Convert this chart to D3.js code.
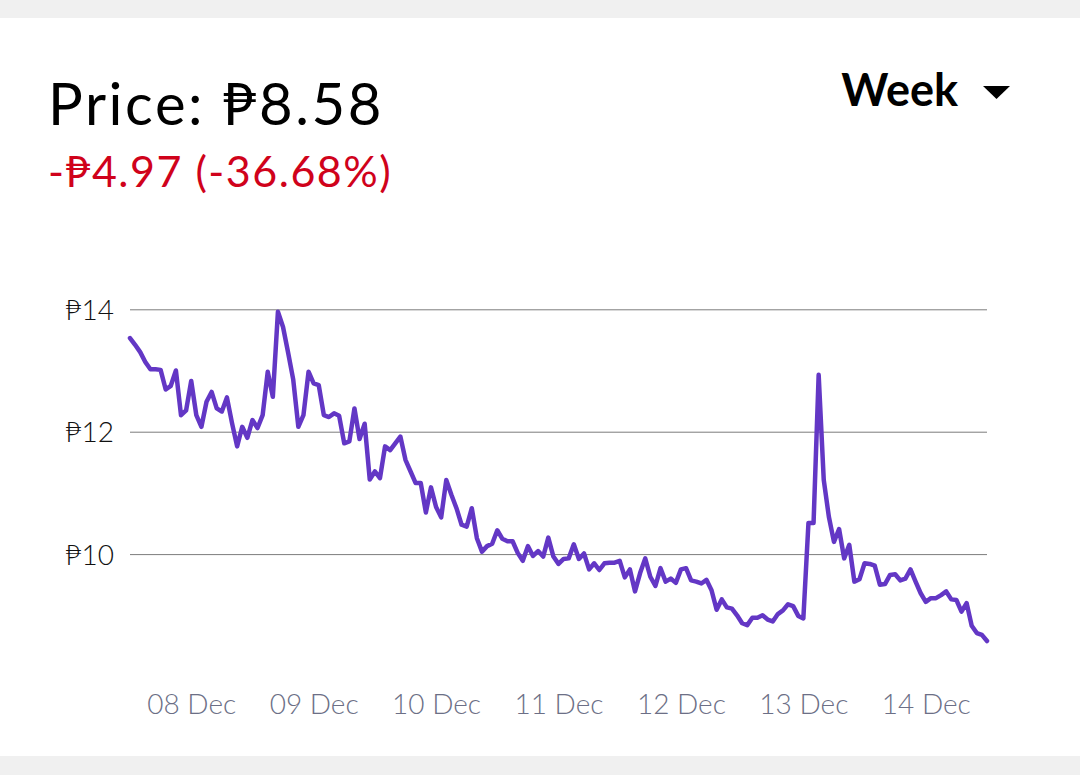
<!DOCTYPE html>
<html>
<head>
<meta charset="utf-8">
<script src="https://cdn.jsdelivr.net/npm/d3@7"></script>
<style>
  html, body { margin: 0; padding: 0; background: #f0f0f0; }
  svg { display: block; font-family: Lato, "Noto Sans", sans-serif; }
</style>
</head>
<body>
<svg id="chart"></svg>
<script>
// hourly prices, 07 Dec 12:00 -> 14 Dec 12:00
var startTime = "2023-12-07T12:00:00Z";
var prices = [
  13.53, 13.42, 13.30, 13.14, 13.02, 13.02, 13.01, 12.69, 12.75, 13.00,
  12.27, 12.35, 12.83, 12.27, 12.08, 12.49, 12.65, 12.38, 12.33, 12.56,
  12.14, 11.76, 12.08, 11.90, 12.19, 12.06, 12.27, 12.98, 12.57, 13.96,
  13.71, 13.29, 12.85, 12.08, 12.27, 12.98, 12.79, 12.76, 12.27, 12.24,
  12.30, 12.26, 11.81, 11.84, 12.38, 11.88, 12.13, 11.22, 11.35, 11.24,
  11.76, 11.70, 11.81, 11.92, 11.54, 11.35, 11.16, 11.16, 10.68, 11.09,
  10.77, 10.60, 11.21, 10.97, 10.75, 10.48, 10.45, 10.75, 10.26, 10.04,
  10.13, 10.17, 10.39, 10.25, 10.21, 10.21, 10.02, 9.89, 10.13, 9.97,
  10.05, 9.96, 10.27, 9.96, 9.84, 9.92, 9.93, 10.16, 9.92, 10.01,
  9.75, 9.85, 9.74, 9.85, 9.86, 9.86, 9.89, 9.62, 9.75, 9.39,
  9.69, 9.93, 9.63, 9.48, 9.77, 9.55, 9.60, 9.53, 9.75, 9.77,
  9.57, 9.55, 9.52, 9.58, 9.41, 9.09, 9.26, 9.13, 9.11, 9.00,
  8.87, 8.84, 8.96, 8.96, 9.00, 8.93, 8.90, 9.02, 9.08, 9.18,
  9.15, 8.99, 8.95, 10.51, 10.51, 12.93, 11.21, 10.61, 10.20, 10.41,
  9.93, 10.15, 9.55, 9.59, 9.85, 9.84, 9.81, 9.50, 9.51, 9.66,
  9.67, 9.57, 9.60, 9.75, 9.55, 9.36, 9.22, 9.28, 9.28, 9.33,
  9.39, 9.26, 9.25, 9.06, 9.20, 8.83, 8.71, 8.68, 8.58
];
var yTicks = [10, 12, 14];
var xTicks = ["2023-12-08", "2023-12-09", "2023-12-10", "2023-12-11",
              "2023-12-12", "2023-12-13", "2023-12-14"];
var priceText = "Price: ₱8.58";
var changeText = "-₱4.97 (-36.68%)";
var periodText = "Week";

var svgWidth = 1080,
    svgHeight = 775;

var svg = d3.select("#chart")
      .attr("width", svgWidth)
      .attr("height", svgHeight);

// white card
svg.append("rect")
      .attr("x", 0)
      .attr("y", 18)
      .attr("width", svgWidth)
      .attr("height", 738)
      .attr("fill", "#ffffff");

var start = new Date(startTime);
var data = prices.map(function(p, i) {
  return { date: d3.utcHour.offset(start, i), price: p };
});

var x = d3.scaleUtc()
      .domain([start, d3.utcHour.offset(start, prices.length - 1)])
      .range([130, 987]);

var y = d3.scaleLinear()
      .domain([8, 14])
      .range([676.5, 309.3]);

// header texts
svg.append("text")
      .attr("x", 48)
      .attr("y", 125)
      .attr("font-size", "58px")
      .attr("letter-spacing", "2.6px")
      .attr("fill", "#000")
      .text(priceText);

svg.append("text")
      .attr("x", 48)
      .attr("y", 187)
      .attr("font-size", "43px")
      .attr("letter-spacing", "1.5px")
      .attr("fill", "#d0021b")
      .text(changeText);

svg.append("text")
      .attr("x", 958)
      .attr("y", 106)
      .attr("text-anchor", "end")
      .attr("font-size", "45px")
      .attr("font-weight", "bold")
      .attr("fill", "#000")
      .text(periodText);

svg.append("path")
      .attr("d", "M983,86L1010,86L996.5,99Z")
      .attr("fill", "#000");

// y axis + grid
var yAxis = svg.append("g")
      .attr("transform", "translate(130,0)")
      .call(d3.axisLeft(y)
        .tickValues(yTicks)
        .tickSize(-857)
        .tickPadding(16)
        .tickFormat(function(d) { return "₱" + d; }));

yAxis.select(".domain").remove();
yAxis.selectAll("line")
      .attr("stroke", "#7c7c7c")
      .attr("stroke-width", 1);
yAxis.selectAll("text")
      .attr("font-family", "Lato, 'Noto Sans', sans-serif")
      .attr("font-size", "28px")
      .attr("font-weight", 300)
      .attr("fill", "#111")
      .attr("dy", "0.36em");

// x axis labels
var xAxis = svg.append("g")
      .attr("transform", "translate(0,694)")
      .call(d3.axisBottom(x)
        .tickValues(xTicks.map(function(d) { return new Date(d + "T00:00:00Z"); }))
        .tickSize(0)
        .tickPadding(0)
        .tickFormat(d3.utcFormat("%d %b")));

xAxis.select(".domain").remove();
xAxis.selectAll("text")
      .attr("font-family", "Lato, 'Noto Sans', sans-serif")
      .attr("font-size", "28px")
      .attr("font-weight", 300)
      .attr("fill", "#6c6f86")
      .attr("dy", "0.72em");

// price line
var line = d3.line()
      .x(function(d) { return x(d.date); })
      .y(function(d) { return y(d.price); });

svg.append("path")
      .datum(data)
      .attr("d", line)
      .attr("fill", "none")
      .attr("stroke", "#6337c5")
      .attr("stroke-width", 4.5)
      .attr("stroke-linejoin", "round")
      .attr("stroke-linecap", "round");
</script>
</body>
</html>
